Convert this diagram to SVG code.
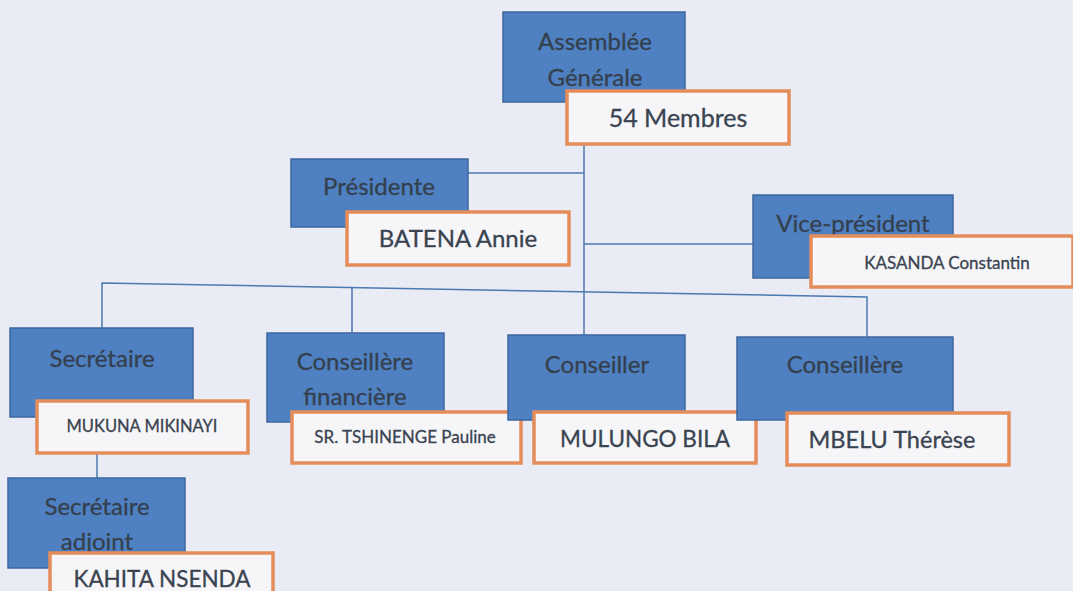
<svg xmlns="http://www.w3.org/2000/svg" width="1073" height="591" viewBox="0 0 1073 591">
<style>
.bg{fill:#e9ecf4}
.role{fill:#4f81c2;stroke:#3c679f;stroke-width:1.5}
.name{fill:#f6f6f8;stroke:#e58d5a;stroke-width:3.5}
.t{font-family:Lato,"Open Sans","Liberation Sans",sans-serif;fill:#3a4350;stroke:#3a4350;stroke-width:0.3;text-anchor:middle}
.rt{font-size:24px;fill:#34404e;stroke:#34404e}
.conn{fill:none;stroke:#4b79b0;stroke-width:1.5}
</style>
<rect class="bg" x="0" y="0" width="1073" height="591"/>
<g id="connectors">
<path class="conn" d="M584,144 V335"/>
<path class="conn" d="M468,173 H584"/>
<path class="conn" d="M584,244 H753"/>
<path class="conn" d="M102,328 V283 L867,297 V337"/>
<path class="conn" d="M352,287 V333"/>
<path class="conn" d="M97,453 V478"/>
</g>
<g id="assemblee">
<rect class="role" x="503" y="12" width="182" height="90"/>
<text class="t rt" x="595" y="50">Assemblée</text>
<text class="t rt" x="595" y="86">Générale</text>
<rect class="name" x="567" y="91" width="222" height="53"/>
<text class="t" x="678" y="127" font-size="25">54 Membres</text>
</g>
<g id="presidente">
<rect class="role" x="291" y="159" width="177" height="68"/>
<text class="t rt" x="379" y="195">Présidente</text>
<rect class="name" x="347" y="212" width="222" height="53"/>
<text class="t" x="458" y="247" font-size="24">BATENA Annie</text>
</g>
<g id="vice-president">
<rect class="role" x="753" y="195" width="200" height="83"/>
<text class="t rt" x="853" y="232">Vice-président</text>
<rect class="name" x="811" y="236" width="262" height="51"/>
<text class="t" x="947" y="269" font-size="17">KASANDA Constantin</text>
</g>
<g id="secretaire">
<rect class="role" x="10" y="328" width="183" height="89"/>
<text class="t rt" x="102" y="367">Secrétaire</text>
<rect class="name" x="37" y="401" width="211" height="52"/>
<text class="t" x="142" y="432" font-size="16.5">MUKUNA MIKINAYI</text>
</g>
<g id="conseillere-financiere">
<rect class="role" x="267" y="333" width="177" height="89"/>
<text class="t rt" x="355" y="370">Conseillère</text>
<text class="t rt" x="355" y="405">financière</text>
<rect class="name" x="292" y="412" width="229" height="51"/>
<text class="t" x="405" y="443" font-size="17">SR. TSHINENGE Pauline</text>
</g>
<g id="conseiller">
<rect class="role" x="508" y="335" width="177" height="85"/>
<text class="t rt" x="597" y="373">Conseiller</text>
<rect class="name" x="534" y="412" width="222" height="51"/>
<text class="t" x="645" y="447" font-size="22.5">MULUNGO BILA</text>
</g>
<g id="conseillere">
<rect class="role" x="737" y="337" width="216" height="83"/>
<text class="t rt" x="845" y="373">Conseillère</text>
<rect class="name" x="787" y="413" width="222" height="52"/>
<text class="t" x="892" y="448" font-size="23.5">MBELU Thérèse</text>
</g>
<g id="secretaire-adjoint">
<rect class="role" x="8" y="478" width="177" height="90"/>
<text class="t rt" x="97" y="515">Secrétaire</text>
<text class="t rt" x="97" y="550">adjoint</text>
<rect class="name" x="50" y="553" width="223" height="50"/>
<text class="t" x="162" y="587" font-size="22.5">KAHITA NSENDA</text>
</g>
</svg>
